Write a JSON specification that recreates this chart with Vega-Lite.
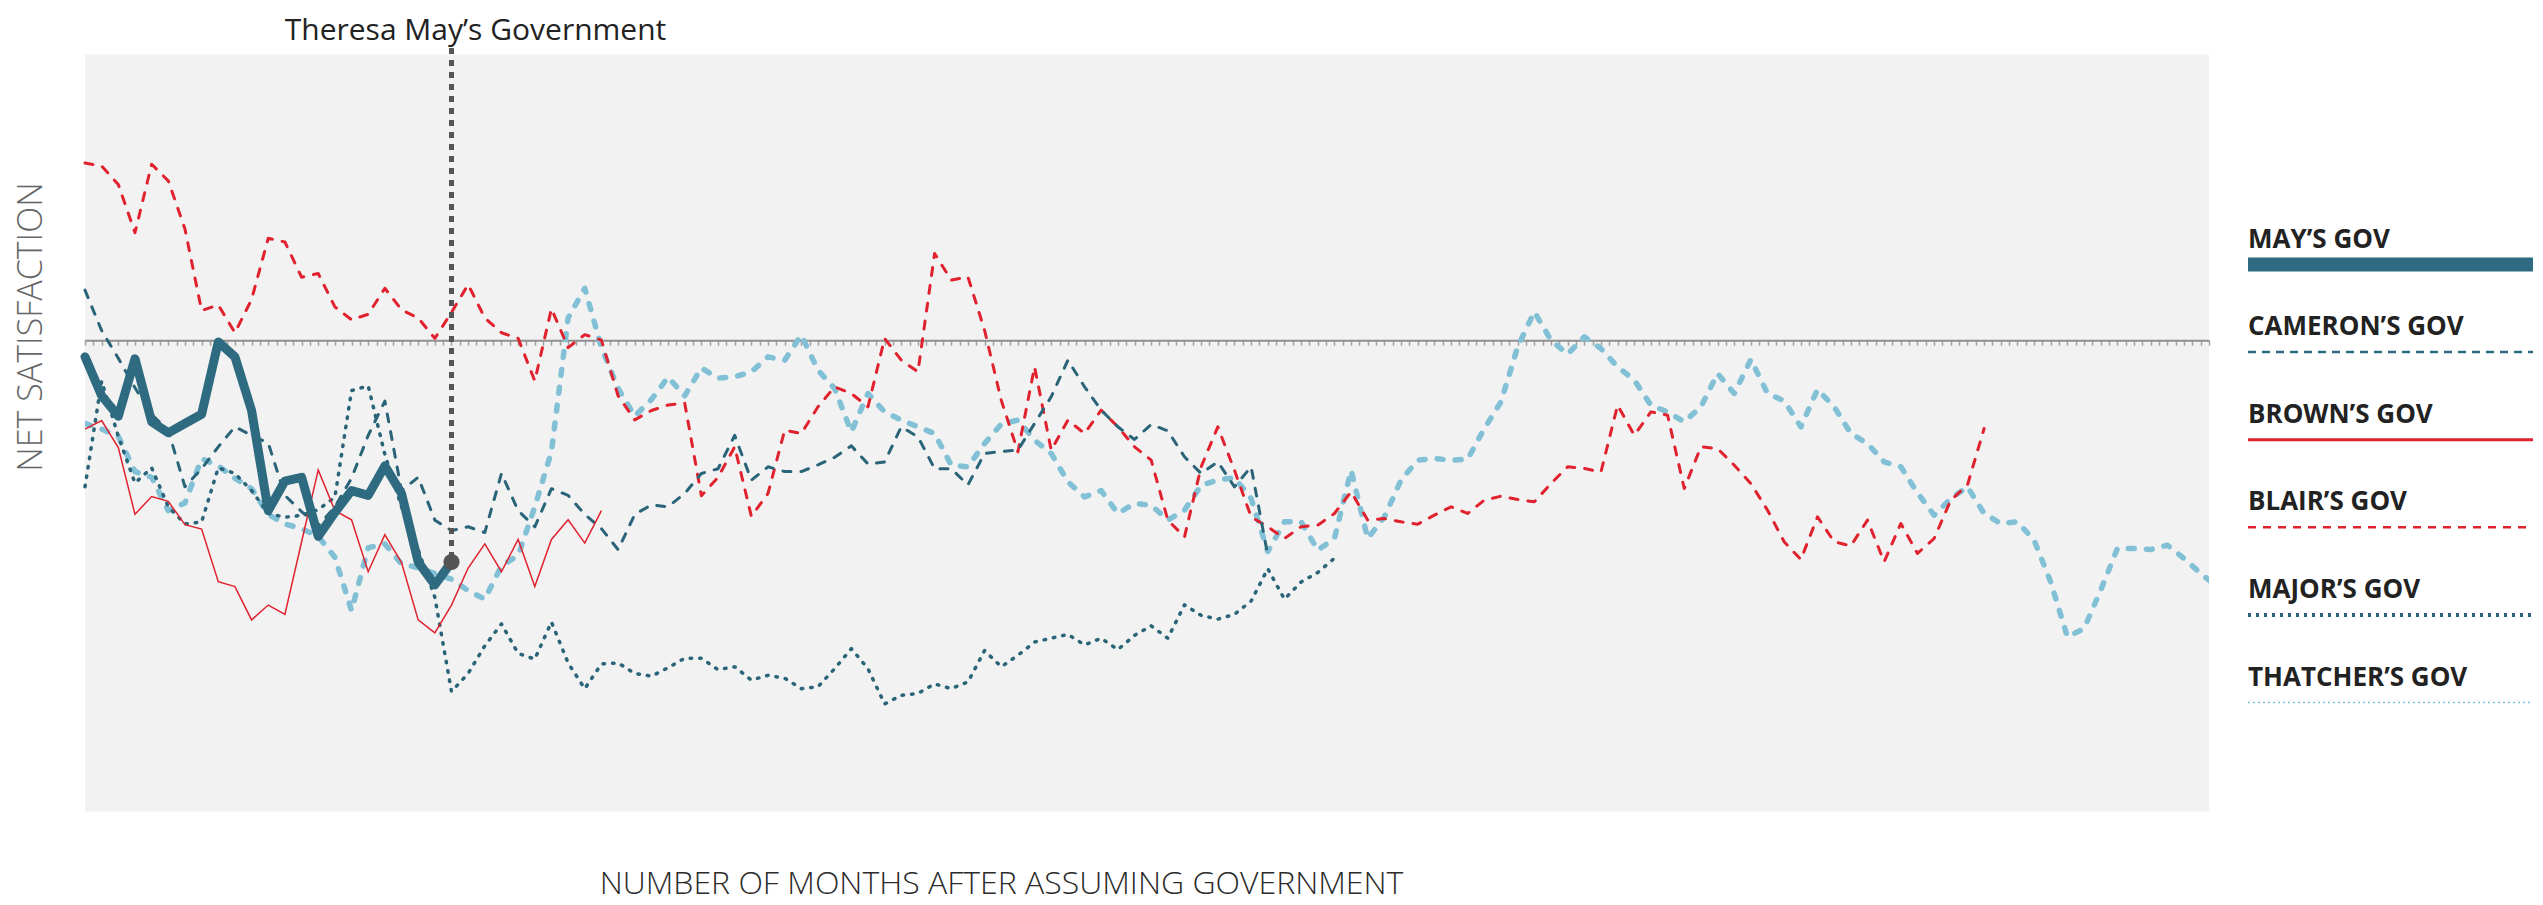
{
  "$schema": "https://vega.github.io/schema/vega-lite/v6.json",
  "background": "white",
  "autosize": {"type": "pad"},
  "padding": {"left": 14, "top": 15.5, "right": 0, "bottom": 10},
  "bounds": "flush",
  "spacing": 39,
  "config": {
    "font": "Open Sans",
    "view": {"stroke": null}
  },
  "datasets": {
    "series": [
      {"gov":"May","month":0,"value":-1.75},{"gov":"May","month":1,"value":-5.84},{"gov":"May","month":2,"value":-7.98},{"gov":"May","month":3,"value":-1.95},{"gov":"May","month":4,"value":-8.56},{"gov":"May","month":5,"value":-9.73},{"gov":"May","month":6,"value":-8.75},{"gov":"May","month":7,"value":-7.78},{"gov":"May","month":8,"value":-0.19},{"gov":"May","month":9,"value":-1.75},{"gov":"May","month":10,"value":-7.39},{"gov":"May","month":11,"value":-17.9},{"gov":"May","month":12,"value":-14.8},{"gov":"May","month":13,"value":-14.4},{"gov":"May","month":14,"value":-20.6},{"gov":"May","month":15,"value":-18.1},{"gov":"May","month":16,"value":-15.8},{"gov":"May","month":17,"value":-16.3},{"gov":"May","month":18,"value":-13.2},{"gov":"May","month":19,"value":-16.1},{"gov":"May","month":20,"value":-23.3},{"gov":"May","month":21,"value":-25.7},{"gov":"May","month":22,"value":-23.3},
      {"gov":"Brown","month":0,"value":-9.34},{"gov":"Brown","month":1,"value":-8.44},{"gov":"Brown","month":2,"value":-11.28},{"gov":"Brown","month":3,"value":-18.29},{"gov":"Brown","month":4,"value":-16.42},{"gov":"Brown","month":5,"value":-16.93},{"gov":"Brown","month":6,"value":-19.38},{"gov":"Brown","month":7,"value":-19.84},{"gov":"Brown","month":8,"value":-25.37},{"gov":"Brown","month":9,"value":-25.88},{"gov":"Brown","month":10,"value":-29.38},{"gov":"Brown","month":11,"value":-27.82},{"gov":"Brown","month":12,"value":-28.79},{"gov":"Brown","month":13,"value":-21.2},{"gov":"Brown","month":14,"value":-13.62},{"gov":"Brown","month":15,"value":-17.9},{"gov":"Brown","month":16,"value":-18.87},{"gov":"Brown","month":17,"value":-24.32},{"gov":"Brown","month":18,"value":-20.43},{"gov":"Brown","month":19,"value":-23.35},{"gov":"Brown","month":20,"value":-29.38},{"gov":"Brown","month":21,"value":-30.74},{"gov":"Brown","month":22,"value":-27.82},{"gov":"Brown","month":23,"value":-23.93},{"gov":"Brown","month":24,"value":-21.4},{"gov":"Brown","month":25,"value":-24.32},{"gov":"Brown","month":26,"value":-20.93},{"gov":"Brown","month":27,"value":-25.88},{"gov":"Brown","month":28,"value":-20.93},{"gov":"Brown","month":29,"value":-18.87},{"gov":"Brown","month":30,"value":-21.32},{"gov":"Brown","month":31,"value":-17.9},
      {"gov":"Blair","month":0,"value":18.6},{"gov":"Blair","month":1,"value":18.29},{"gov":"Blair","month":2,"value":16.34},{"gov":"Blair","month":3,"value":11.28},{"gov":"Blair","month":4,"value":18.48},{"gov":"Blair","month":5,"value":16.73},{"gov":"Blair","month":6,"value":11.67},{"gov":"Blair","month":7,"value":3.11},{"gov":"Blair","month":8,"value":3.7},{"gov":"Blair","month":9,"value":0.78},{"gov":"Blair","month":10,"value":4.28},{"gov":"Blair","month":11,"value":10.7},{"gov":"Blair","month":12,"value":10.31},{"gov":"Blair","month":13,"value":6.61},{"gov":"Blair","month":14,"value":7.0},{"gov":"Blair","month":15,"value":3.5},{"gov":"Blair","month":16,"value":2.14},{"gov":"Blair","month":17,"value":2.72},{"gov":"Blair","month":18,"value":5.45},{"gov":"Blair","month":19,"value":3.19},{"gov":"Blair","month":20,"value":2.33},{"gov":"Blair","month":21,"value":0.19},{"gov":"Blair","month":22,"value":2.92},{"gov":"Blair","month":23,"value":5.84},{"gov":"Blair","month":24,"value":2.33},{"gov":"Blair","month":25,"value":0.78},{"gov":"Blair","month":26,"value":0.19},{"gov":"Blair","month":27,"value":-4.28},{"gov":"Blair","month":28,"value":3.31},{"gov":"Blair","month":29,"value":-0.78},{"gov":"Blair","month":30,"value":0.58},{"gov":"Blair","month":31,"value":0},{"gov":"Blair","month":32,"value":-5.84},{"gov":"Blair","month":33,"value":-8.37},{"gov":"Blair","month":34,"value":-7.39},{"gov":"Blair","month":35,"value":-6.81},{"gov":"Blair","month":36,"value":-6.61},{"gov":"Blair","month":37,"value":-16.34},{"gov":"Blair","month":38,"value":-14.4},{"gov":"Blair","month":39,"value":-11.2},{"gov":"Blair","month":40,"value":-18.5},{"gov":"Blair","month":41,"value":-16.1},{"gov":"Blair","month":42,"value":-9.45},{"gov":"Blair","month":43,"value":-9.8},{"gov":"Blair","month":44,"value":-7.0},{"gov":"Blair","month":45,"value":-4.9},{"gov":"Blair","month":46,"value":-5.6},{"gov":"Blair","month":47,"value":-7.0},{"gov":"Blair","month":48,"value":0.18},{"gov":"Blair","month":49,"value":-2.1},{"gov":"Blair","month":50,"value":-3.33},{"gov":"Blair","month":51,"value":9.1},{"gov":"Blair","month":52,"value":6.3},{"gov":"Blair","month":53,"value":6.65},{"gov":"Blair","month":54,"value":1.05},{"gov":"Blair","month":55,"value":-6.3},{"gov":"Blair","month":56,"value":-11.73},{"gov":"Blair","month":57,"value":-2.8},{"gov":"Blair","month":58,"value":-11.55},{"gov":"Blair","month":59,"value":-8.4},{"gov":"Blair","month":60,"value":-9.8},{"gov":"Blair","month":61,"value":-7.35},{"gov":"Blair","month":62,"value":-9.1},{"gov":"Blair","month":63,"value":-11.2},{"gov":"Blair","month":64,"value":-12.6},{"gov":"Blair","month":65,"value":-18.9},{"gov":"Blair","month":66,"value":-20.66},{"gov":"Blair","month":67,"value":-13.3},{"gov":"Blair","month":68,"value":-9.1},{"gov":"Blair","month":69,"value":-13.66},{"gov":"Blair","month":70,"value":-18.56},{"gov":"Blair","month":71,"value":-19.6},{"gov":"Blair","month":72,"value":-20.83},{"gov":"Blair","month":73,"value":-19.6},{"gov":"Blair","month":74,"value":-19.43},{"gov":"Blair","month":75,"value":-18.2},{"gov":"Blair","month":76,"value":-15.93},{"gov":"Blair","month":77,"value":-18.9},{"gov":"Blair","month":78,"value":-18.73},{"gov":"Blair","month":79,"value":-19.08},{"gov":"Blair","month":80,"value":-19.33},{"gov":"Blair","month":81,"value":-18.38},{"gov":"Blair","month":82,"value":-17.5},{"gov":"Blair","month":83,"value":-18.2},{"gov":"Blair","month":84,"value":-16.8},{"gov":"Blair","month":85,"value":-16.39},{"gov":"Blair","month":86,"value":-16.74},{"gov":"Blair","month":87,"value":-16.98},{"gov":"Blair","month":88,"value":-15.06},{"gov":"Blair","month":89,"value":-13.3},{"gov":"Blair","month":90,"value":-13.48},{"gov":"Blair","month":91,"value":-13.83},{"gov":"Blair","month":92,"value":-6.83},{"gov":"Blair","month":93,"value":-9.98},{"gov":"Blair","month":94,"value":-7.53},{"gov":"Blair","month":95,"value":-7.88},{"gov":"Blair","month":96,"value":-15.58},{"gov":"Blair","month":97,"value":-11.2},{"gov":"Blair","month":98,"value":-11.38},{"gov":"Blair","month":99,"value":-13.13},{"gov":"Blair","month":100,"value":-15.06},{"gov":"Blair","month":101,"value":-17.86},{"gov":"Blair","month":102,"value":-21.18},{"gov":"Blair","month":103,"value":-23.04},{"gov":"Blair","month":104,"value":-18.56},{"gov":"Blair","month":105,"value":-21.18},{"gov":"Blair","month":106,"value":-21.6},{"gov":"Blair","month":107,"value":-18.9},{"gov":"Blair","month":108,"value":-23.28},{"gov":"Blair","month":109,"value":-19.26},{"gov":"Blair","month":110,"value":-22.4},{"gov":"Blair","month":111,"value":-20.83},{"gov":"Blair","month":112,"value":-16.8},{"gov":"Blair","month":113,"value":-15.23},{"gov":"Blair","month":114,"value":-9.28},
      {"gov":"Major","month":0,"value":-15.4},{"gov":"Major","month":1,"value":-4.3},{"gov":"Major","month":2,"value":-10.1},{"gov":"Major","month":3,"value":-15.0},{"gov":"Major","month":4,"value":-13.4},{"gov":"Major","month":5,"value":-17.5},{"gov":"Major","month":6,"value":-19.3},{"gov":"Major","month":7,"value":-19.1},{"gov":"Major","month":8,"value":-13.4},{"gov":"Major","month":9,"value":-14.0},{"gov":"Major","month":10,"value":-15.8},{"gov":"Major","month":11,"value":-18.2},{"gov":"Major","month":12,"value":-18.6},{"gov":"Major","month":13,"value":-18.4},{"gov":"Major","month":14,"value":-17.8},{"gov":"Major","month":15,"value":-16.5},{"gov":"Major","month":16,"value":-5.3},{"gov":"Major","month":17,"value":-4.8},{"gov":"Major","month":18,"value":-12.0},{"gov":"Major","month":19,"value":-17.5},{"gov":"Major","month":20,"value":-22.0},{"gov":"Major","month":21,"value":-27.0},{"gov":"Major","month":22,"value":-36.9},{"gov":"Major","month":23,"value":-35.0},{"gov":"Major","month":24,"value":-32.1},{"gov":"Major","month":25,"value":-29.8},{"gov":"Major","month":26,"value":-32.9},{"gov":"Major","month":27,"value":-33.5},{"gov":"Major","month":28,"value":-29.6},{"gov":"Major","month":29,"value":-33.9},{"gov":"Major","month":30,"value":-36.6},{"gov":"Major","month":31,"value":-34.0},{"gov":"Major","month":32,"value":-33.9},{"gov":"Major","month":33,"value":-35.0},{"gov":"Major","month":34,"value":-35.3},{"gov":"Major","month":35,"value":-34.4},{"gov":"Major","month":36,"value":-33.4},{"gov":"Major","month":37,"value":-33.4},{"gov":"Major","month":38,"value":-34.6},{"gov":"Major","month":39,"value":-34.3},{"gov":"Major","month":40,"value":-35.7},{"gov":"Major","month":41,"value":-35.2},{"gov":"Major","month":42,"value":-35.5},{"gov":"Major","month":43,"value":-36.6},{"gov":"Major","month":44,"value":-36.4},{"gov":"Major","month":45,"value":-34.5},{"gov":"Major","month":46,"value":-32.4},{"gov":"Major","month":47,"value":-34.5},{"gov":"Major","month":48,"value":-38.2},{"gov":"Major","month":49,"value":-37.3},{"gov":"Major","month":50,"value":-37.1},{"gov":"Major","month":51,"value":-36.1},{"gov":"Major","month":52,"value":-36.6},{"gov":"Major","month":53,"value":-35.9},{"gov":"Major","month":54,"value":-32.6},{"gov":"Major","month":55,"value":-34.3},{"gov":"Major","month":56,"value":-33.1},{"gov":"Major","month":57,"value":-31.7},{"gov":"Major","month":58,"value":-31.3},{"gov":"Major","month":59,"value":-30.9},{"gov":"Major","month":60,"value":-32.0},{"gov":"Major","month":61,"value":-31.3},{"gov":"Major","month":62,"value":-32.5},{"gov":"Major","month":63,"value":-31.0},{"gov":"Major","month":64,"value":-30.0},{"gov":"Major","month":65,"value":-31.3},{"gov":"Major","month":66,"value":-27.8},{"gov":"Major","month":67,"value":-28.9},{"gov":"Major","month":68,"value":-29.3},{"gov":"Major","month":69,"value":-28.8},{"gov":"Major","month":70,"value":-27.4},{"gov":"Major","month":71,"value":-24.0},{"gov":"Major","month":72,"value":-27.2},{"gov":"Major","month":73,"value":-25.4},{"gov":"Major","month":74,"value":-24.4},{"gov":"Major","month":75,"value":-22.9},
      {"gov":"Thatcher","month":0,"value":-8.75},{"gov":"Thatcher","month":1,"value":-9.34},{"gov":"Thatcher","month":2,"value":-10.1},{"gov":"Thatcher","month":3,"value":-13.8},{"gov":"Thatcher","month":4,"value":-14.4},{"gov":"Thatcher","month":5,"value":-17.9},{"gov":"Thatcher","month":6,"value":-17.1},{"gov":"Thatcher","month":7,"value":-12.45},{"gov":"Thatcher","month":8,"value":-13.2},{"gov":"Thatcher","month":9,"value":-14.5},{"gov":"Thatcher","month":10,"value":-15.6},{"gov":"Thatcher","month":11,"value":-18.3},{"gov":"Thatcher","month":12,"value":-19.3},{"gov":"Thatcher","month":13,"value":-19.8},{"gov":"Thatcher","month":14,"value":-20.6},{"gov":"Thatcher","month":15,"value":-22.8},{"gov":"Thatcher","month":16,"value":-28.4},{"gov":"Thatcher","month":17,"value":-21.8},{"gov":"Thatcher","month":18,"value":-21.4},{"gov":"Thatcher","month":19,"value":-23.5},{"gov":"Thatcher","month":20,"value":-23.9},{"gov":"Thatcher","month":21,"value":-24.5},{"gov":"Thatcher","month":22,"value":-25.1},{"gov":"Thatcher","month":23,"value":-26.3},{"gov":"Thatcher","month":24,"value":-27.2},{"gov":"Thatcher","month":25,"value":-23.7},{"gov":"Thatcher","month":26,"value":-22.6},{"gov":"Thatcher","month":27,"value":-17.5},{"gov":"Thatcher","month":28,"value":-11.7},{"gov":"Thatcher","month":29,"value":2.33},{"gov":"Thatcher","month":30,"value":5.45},{"gov":"Thatcher","month":31,"value":-0.78},{"gov":"Thatcher","month":32,"value":-5.06},{"gov":"Thatcher","month":33,"value":-7.98},{"gov":"Thatcher","month":34,"value":-6.23},{"gov":"Thatcher","month":35,"value":-3.89},{"gov":"Thatcher","month":36,"value":-5.84},{"gov":"Thatcher","month":37,"value":-2.92},{"gov":"Thatcher","month":38,"value":-4.0},{"gov":"Thatcher","month":39,"value":-3.85},{"gov":"Thatcher","month":40,"value":-3.33},{"gov":"Thatcher","month":41,"value":-1.75},{"gov":"Thatcher","month":42,"value":-2.1},{"gov":"Thatcher","month":43,"value":0.53},{"gov":"Thatcher","month":44,"value":-3.15},{"gov":"Thatcher","month":45,"value":-5.08},{"gov":"Thatcher","month":46,"value":-9.63},{"gov":"Thatcher","month":47,"value":-5.6},{"gov":"Thatcher","month":48,"value":-7.53},{"gov":"Thatcher","month":49,"value":-8.4},{"gov":"Thatcher","month":50,"value":-9.1},{"gov":"Thatcher","month":51,"value":-9.8},{"gov":"Thatcher","month":52,"value":-13.13},{"gov":"Thatcher","month":53,"value":-13.3},{"gov":"Thatcher","month":54,"value":-10.85},{"gov":"Thatcher","month":55,"value":-8.82},{"gov":"Thatcher","month":56,"value":-8.4},{"gov":"Thatcher","month":57,"value":-10.5},{"gov":"Thatcher","month":58,"value":-11.9},{"gov":"Thatcher","month":59,"value":-14.88},{"gov":"Thatcher","month":60,"value":-16.46},{"gov":"Thatcher","month":61,"value":-15.8},{"gov":"Thatcher","month":62,"value":-18.2},{"gov":"Thatcher","month":63,"value":-17.16},{"gov":"Thatcher","month":64,"value":-17.33},{"gov":"Thatcher","month":65,"value":-18.9},{"gov":"Thatcher","month":66,"value":-17.86},{"gov":"Thatcher","month":67,"value":-15.23},{"gov":"Thatcher","month":68,"value":-14.7},{"gov":"Thatcher","month":69,"value":-14.43},{"gov":"Thatcher","month":70,"value":-16.63},{"gov":"Thatcher","month":71,"value":-22.2},{"gov":"Thatcher","month":72,"value":-19.08},{"gov":"Thatcher","month":73,"value":-19.08},{"gov":"Thatcher","month":74,"value":-22.06},{"gov":"Thatcher","month":75,"value":-20.83},{"gov":"Thatcher","month":76,"value":-13.66},{"gov":"Thatcher","month":77,"value":-20.83},{"gov":"Thatcher","month":78,"value":-18.56},{"gov":"Thatcher","month":79,"value":-14.7},{"gov":"Thatcher","month":80,"value":-12.6},{"gov":"Thatcher","month":81,"value":-12.43},{"gov":"Thatcher","month":82,"value":-12.6},{"gov":"Thatcher","month":83,"value":-12.5},{"gov":"Thatcher","month":84,"value":-9.28},{"gov":"Thatcher","month":85,"value":-6.48},{"gov":"Thatcher","month":86,"value":-0.7},{"gov":"Thatcher","month":87,"value":2.98},{"gov":"Thatcher","month":88,"value":0},{"gov":"Thatcher","month":89,"value":-1.47},{"gov":"Thatcher","month":90,"value":0.35},{"gov":"Thatcher","month":91,"value":-0.88},{"gov":"Thatcher","month":92,"value":-2.8},{"gov":"Thatcher","month":93,"value":-4.2},{"gov":"Thatcher","month":94,"value":-6.83},{"gov":"Thatcher","month":95,"value":-7.53},{"gov":"Thatcher","month":96,"value":-8.58},{"gov":"Thatcher","month":97,"value":-7.0},{"gov":"Thatcher","month":98,"value":-3.5},{"gov":"Thatcher","month":99,"value":-5.6},{"gov":"Thatcher","month":100,"value":-2.03},{"gov":"Thatcher","month":101,"value":-5.6},{"gov":"Thatcher","month":102,"value":-6.37},{"gov":"Thatcher","month":103,"value":-9.1},{"gov":"Thatcher","month":104,"value":-5.18},{"gov":"Thatcher","month":105,"value":-7.0},{"gov":"Thatcher","month":106,"value":-9.8},{"gov":"Thatcher","month":107,"value":-10.85},{"gov":"Thatcher","month":108,"value":-12.78},{"gov":"Thatcher","month":109,"value":-13.3},{"gov":"Thatcher","month":110,"value":-16.04},{"gov":"Thatcher","month":111,"value":-18.38},{"gov":"Thatcher","month":112,"value":-16.63},{"gov":"Thatcher","month":113,"value":-15.41},{"gov":"Thatcher","month":114,"value":-18.2},{"gov":"Thatcher","month":115,"value":-19.26},{"gov":"Thatcher","month":116,"value":-19.08},{"gov":"Thatcher","month":117,"value":-21.0},{"gov":"Thatcher","month":118,"value":-25.4},{"gov":"Thatcher","month":119,"value":-31.16},{"gov":"Thatcher","month":120,"value":-30.28},{"gov":"Thatcher","month":121,"value":-26.26},{"gov":"Thatcher","month":122,"value":-21.88},{"gov":"Thatcher","month":123,"value":-21.88},{"gov":"Thatcher","month":124,"value":-21.99},{"gov":"Thatcher","month":125,"value":-21.53},{"gov":"Thatcher","month":126,"value":-22.93},{"gov":"Thatcher","month":127,"value":-24.5},{"gov":"Thatcher","month":128,"value":-25.9},
      {"gov":"Cameron","month":0,"value":5.25},{"gov":"Cameron","month":1,"value":1.0},{"gov":"Cameron","month":2,"value":-1.9},{"gov":"Cameron","month":3,"value":-5.0},{"gov":"Cameron","month":4,"value":-7.8},{"gov":"Cameron","month":5,"value":-9.5},{"gov":"Cameron","month":6,"value":-15.4},{"gov":"Cameron","month":7,"value":-13.5},{"gov":"Cameron","month":8,"value":-11.2},{"gov":"Cameron","month":9,"value":-9.1},{"gov":"Cameron","month":10,"value":-10.0},{"gov":"Cameron","month":11,"value":-10.8},{"gov":"Cameron","month":12,"value":-16.3},{"gov":"Cameron","month":13,"value":-18.0},{"gov":"Cameron","month":14,"value":-19.5},{"gov":"Cameron","month":15,"value":-17.5},{"gov":"Cameron","month":16,"value":-14.5},{"gov":"Cameron","month":17,"value":-10.0},{"gov":"Cameron","month":18,"value":-6.4},{"gov":"Cameron","month":19,"value":-15.8},{"gov":"Cameron","month":20,"value":-14.4},{"gov":"Cameron","month":21,"value":-18.9},{"gov":"Cameron","month":22,"value":-20.0},{"gov":"Cameron","month":23,"value":-19.6},{"gov":"Cameron","month":24,"value":-20.2},{"gov":"Cameron","month":25,"value":-14.0},{"gov":"Cameron","month":26,"value":-17.9},{"gov":"Cameron","month":27,"value":-19.6},{"gov":"Cameron","month":28,"value":-15.6},{"gov":"Cameron","month":29,"value":-16.3},{"gov":"Cameron","month":30,"value":-18.3},{"gov":"Cameron","month":31,"value":-19.8},{"gov":"Cameron","month":32,"value":-22.0},{"gov":"Cameron","month":33,"value":-18.3},{"gov":"Cameron","month":34,"value":-17.3},{"gov":"Cameron","month":35,"value":-17.5},{"gov":"Cameron","month":36,"value":-16.1},{"gov":"Cameron","month":37,"value":-14.0},{"gov":"Cameron","month":38,"value":-13.5},{"gov":"Cameron","month":39,"value":-10.0},{"gov":"Cameron","month":40,"value":-14.7},{"gov":"Cameron","month":41,"value":-13.3},{"gov":"Cameron","month":42,"value":-13.8},{"gov":"Cameron","month":43,"value":-13.8},{"gov":"Cameron","month":44,"value":-13.1},{"gov":"Cameron","month":45,"value":-12.3},{"gov":"Cameron","month":46,"value":-11.1},{"gov":"Cameron","month":47,"value":-13.0},{"gov":"Cameron","month":48,"value":-12.8},{"gov":"Cameron","month":49,"value":-9.1},{"gov":"Cameron","month":50,"value":-10.15},{"gov":"Cameron","month":51,"value":-13.5},{"gov":"Cameron","month":52,"value":-13.5},{"gov":"Cameron","month":53,"value":-15.2},{"gov":"Cameron","month":54,"value":-11.9},{"gov":"Cameron","month":55,"value":-11.7},{"gov":"Cameron","month":56,"value":-11.55},{"gov":"Cameron","month":57,"value":-8.75},{"gov":"Cameron","month":58,"value":-5.95},{"gov":"Cameron","month":59,"value":-2.1},{"gov":"Cameron","month":60,"value":-4.9},{"gov":"Cameron","month":61,"value":-7.35},{"gov":"Cameron","month":62,"value":-9.1},{"gov":"Cameron","month":63,"value":-10.43},{"gov":"Cameron","month":64,"value":-8.86},{"gov":"Cameron","month":65,"value":-9.52},{"gov":"Cameron","month":66,"value":-12.25},{"gov":"Cameron","month":67,"value":-14.0},{"gov":"Cameron","month":68,"value":-12.78},{"gov":"Cameron","month":69,"value":-15.4},{"gov":"Cameron","month":70,"value":-13.3},{"gov":"Cameron","month":71,"value":-22.6}
    ],
    "legend": [
      {"gov": "MAY’S GOV"},
      {"gov": "CAMERON’S GOV"},
      {"gov": "BROWN’S GOV"},
      {"gov": "BLAIR’S GOV"},
      {"gov": "MAJOR’S GOV"},
      {"gov": "THATCHER’S GOV"}
    ]
  },
  "resolve": {"scale": {"x": "independent", "y": "independent", "color": "independent", "strokeDash": "independent", "strokeWidth": "independent"}},
  "hconcat": [
    {
      "width": 2124,
      "height": 757,
      "view": {"fill": "#f2f2f2", "stroke": null},
      "data": {"name": "series"},
      "encoding": {
        "x": {
          "field": "month", "type": "quantitative",
          "scale": {"domain": [0, 127.5], "nice": false, "zero": false},
          "axis": {
            "orient": "bottom", "offset": -471.3, "labels": false, "grid": false,
            "tickCount": 255, "tickSize": 5, "tickColor": "#a0a0a0", "tickWidth": 1.5,
            "domainColor": "#909090", "domainWidth": 2,
            "title": "NUMBER OF MONTHS AFTER ASSUMING GOVERNMENT",
            "titleX": 916, "titleY": 543, "titleAlign": "center", "titleBaseline": "middle",
            "titleFontSize": 32, "titleFontWeight": 300, "titleColor": "#2b2b2b"
          }
        },
        "y": {
          "field": "value", "type": "quantitative",
          "scale": {"domain": [-49.5, 30], "nice": false, "zero": false},
          "axis": {
            "labels": false, "ticks": false, "domain": false, "grid": false,
            "title": "NET SATISFACTION",
            "titleX": -54, "titleY": 272, "titleAlign": "center", "titleBaseline": "middle",
            "titleFontSize": 34, "titleFontWeight": 300, "titleColor": "#666666"
          }
        }
      },
      "layer": [
        {
          "transform": [{"filter": "datum.gov === 'Thatcher'"}],
          "mark": {"type": "line", "clip": true, "color": "#82c0d6", "strokeWidth": 5.5, "strokeDash": [6, 12], "strokeCap": "round", "strokeJoin": "round"}
        },
        {
          "transform": [{"filter": "datum.gov === 'Major'"}],
          "mark": {"type": "line", "color": "#2a6478", "strokeWidth": 3.5, "strokeDash": [1.5, 8], "strokeCap": "round", "strokeJoin": "round"}
        },
        {
          "transform": [{"filter": "datum.gov === 'Blair'"}],
          "mark": {"type": "line", "color": "#e0222f", "strokeWidth": 3, "strokeDash": [8, 10], "strokeCap": "round", "strokeJoin": "round"}
        },
        {
          "transform": [{"filter": "datum.gov === 'Cameron'"}],
          "mark": {"type": "line", "color": "#2a6478", "strokeWidth": 3, "strokeDash": [8, 10], "strokeCap": "round", "strokeJoin": "round"}
        },
        {
          "transform": [{"filter": "datum.gov === 'Brown'"}],
          "mark": {"type": "line", "color": "#e0222f", "strokeWidth": 1.5}
        },
        {
          "transform": [{"filter": "datum.gov === 'May'"}],
          "mark": {"type": "line", "color": "#2f6b80", "strokeWidth": 9, "strokeCap": "round", "strokeJoin": "round"}
        },
        {
          "transform": [{"filter": "datum.gov === 'May' && datum.month === 22"}],
          "mark": {"type": "rule", "clip": false, "color": "#555555", "strokeWidth": 5, "strokeDash": [6, 6]},
          "encoding": {
            "y": {"datum": 30.68},
            "y2": {"field": "value"}
          }
        },
        {
          "transform": [{"filter": "datum.gov === 'May' && datum.month === 22"}],
          "mark": {"type": "point", "clip": false, "filled": true, "shape": "circle", "size": 260, "color": "#555555", "opacity": 1}
        },
        {
          "transform": [{"filter": "datum.gov === 'May' && datum.month === 22"}],
          "mark": {"type": "text", "clip": false, "align": "center", "baseline": "middle", "dx": 24, "fontSize": 30, "color": "#222222", "text": "Theresa May’s Government"},
          "encoding": {
            "y": {"datum": 32.5}
          }
        }
      ]
    },
    {
      "width": 285,
      "height": 757,
      "data": {"name": "legend"},
      "encoding": {
        "y": {
          "field": "gov", "type": "nominal",
          "scale": {"type": "point", "padding": 0, "domain": ["MAY’S GOV", "CAMERON’S GOV", "BROWN’S GOV", "BLAIR’S GOV", "MAJOR’S GOV", "THATCHER’S GOV"], "range": [210, 648]},
          "axis": null
        }
      },
      "layer": [
        {
          "mark": {"type": "rule"},
          "encoding": {
            "x": {"datum": 0, "scale": {"domain": [0, 1]}, "axis": null},
            "x2": {"datum": 1},
            "color": {
              "field": "gov", "type": "nominal", "legend": null,
              "scale": {"domain": ["MAY’S GOV", "CAMERON’S GOV", "BROWN’S GOV", "BLAIR’S GOV", "MAJOR’S GOV", "THATCHER’S GOV"], "range": ["#2f6b80", "#2f6b80", "#e0222f", "#e0222f", "#2a6478", "#82c0d6"]}
            },
            "strokeWidth": {
              "field": "gov", "type": "nominal", "legend": null,
              "scale": {"type": "ordinal", "domain": ["MAY’S GOV", "CAMERON’S GOV", "BROWN’S GOV", "BLAIR’S GOV", "MAJOR’S GOV", "THATCHER’S GOV"], "range": [14, 2.5, 3, 2.5, 4, 1.5]}
            },
            "strokeDash": {
              "field": "gov", "type": "nominal", "legend": null,
              "scale": {"domain": ["MAY’S GOV", "CAMERON’S GOV", "BROWN’S GOV", "BLAIR’S GOV", "MAJOR’S GOV", "THATCHER’S GOV"], "range": [[1, 0], [8, 6], [1, 0], [8, 7], [3, 5], [2, 3]]}
            }
          }
        },
        {
          "mark": {"type": "text", "align": "left", "baseline": "alphabetic", "dy": -17, "fontSize": 26, "fontWeight": "bold", "color": "#222222"},
          "encoding": {
            "x": {"datum": 0},
            "text": {"field": "gov"}
          }
        }
      ]
    }
  ]
}
